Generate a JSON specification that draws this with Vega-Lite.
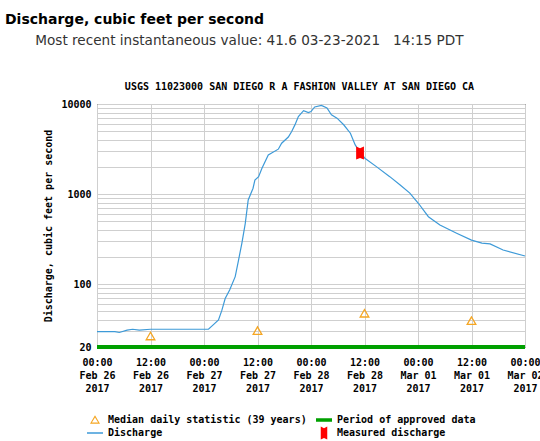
{
  "$schema": "https://vega.github.io/schema/vega-lite/v6.json",
  "width": 428,
  "height": 243,
  "autosize": "none",
  "padding": {"left": 97, "top": 104, "right": 15, "bottom": 94},
  "title": {
    "text": "Discharge, cubic feet per second",
    "subtitle": "\u200b\u00a0\u00a0\u00a0\u00a0\u00a0\u00a0\u00a0Most recent instantaneous value: 41.6 03-23-2021\u00a0\u00a0\u00a014:15 PDT",
    "anchor": "start",
    "frame": "group",
    "dx": -92,
    "font": "DejaVu Sans",
    "fontSize": 14,
    "fontWeight": "bold",
    "color": "#000",
    "subtitleFont": "DejaVu Sans",
    "subtitleFontSize": 13.6,
    "subtitleColor": "#333",
    "subtitlePadding": 7,
    "offset": 33
  },
  "datasets": {
    "discharge": [
      {"t": "2017-02-26T00:00", "q": 29.6},
      {"t": "2017-02-26T04:00", "q": 29.6},
      {"t": "2017-02-26T05:00", "q": 29.0},
      {"t": "2017-02-26T06:45", "q": 30.8},
      {"t": "2017-02-26T08:00", "q": 31.5},
      {"t": "2017-02-26T09:30", "q": 30.8},
      {"t": "2017-02-26T12:00", "q": 31.5},
      {"t": "2017-02-27T01:00", "q": 31.5},
      {"t": "2017-02-27T02:00", "q": 35},
      {"t": "2017-02-27T03:15", "q": 40},
      {"t": "2017-02-27T04:00", "q": 51},
      {"t": "2017-02-27T04:45", "q": 69},
      {"t": "2017-02-27T05:45", "q": 86},
      {"t": "2017-02-27T07:00", "q": 121},
      {"t": "2017-02-27T07:45", "q": 185},
      {"t": "2017-02-27T08:30", "q": 285},
      {"t": "2017-02-27T09:15", "q": 470},
      {"t": "2017-02-27T09:55", "q": 860},
      {"t": "2017-02-27T11:00", "q": 1160},
      {"t": "2017-02-27T11:25", "q": 1430},
      {"t": "2017-02-27T12:15", "q": 1560},
      {"t": "2017-02-27T13:00", "q": 1930},
      {"t": "2017-02-27T14:25", "q": 2720},
      {"t": "2017-02-27T16:40", "q": 3150},
      {"t": "2017-02-27T17:25", "q": 3670},
      {"t": "2017-02-27T18:55", "q": 4300},
      {"t": "2017-02-27T19:40", "q": 4940},
      {"t": "2017-02-27T20:25", "q": 5900},
      {"t": "2017-02-27T21:10", "q": 7250},
      {"t": "2017-02-27T22:20", "q": 8440},
      {"t": "2017-02-27T23:25", "q": 8030},
      {"t": "2017-02-28T00:00", "q": 8250},
      {"t": "2017-02-28T00:50", "q": 9270},
      {"t": "2017-02-28T02:20", "q": 9640},
      {"t": "2017-02-28T03:35", "q": 9060},
      {"t": "2017-02-28T04:35", "q": 7580},
      {"t": "2017-02-28T05:50", "q": 6960},
      {"t": "2017-02-28T07:20", "q": 5880},
      {"t": "2017-02-28T08:50", "q": 4740},
      {"t": "2017-02-28T09:55", "q": 3510},
      {"t": "2017-02-28T11:00", "q": 2900},
      {"t": "2017-02-28T12:05", "q": 2500},
      {"t": "2017-02-28T14:40", "q": 2015},
      {"t": "2017-02-28T17:40", "q": 1560},
      {"t": "2017-02-28T20:00", "q": 1262},
      {"t": "2017-02-28T22:10", "q": 1023},
      {"t": "2017-03-01T00:05", "q": 790},
      {"t": "2017-03-01T02:20", "q": 560},
      {"t": "2017-03-01T04:55", "q": 452},
      {"t": "2017-03-01T08:40", "q": 367},
      {"t": "2017-03-01T12:00", "q": 308},
      {"t": "2017-03-01T14:20", "q": 285},
      {"t": "2017-03-01T16:10", "q": 279},
      {"t": "2017-03-01T19:05", "q": 239},
      {"t": "2017-03-02T00:00", "q": 205}
    ],
    "median": [
      {"t": "2017-02-26T12:00", "q": 26.5},
      {"t": "2017-02-27T12:00", "q": 30.4},
      {"t": "2017-02-28T12:00", "q": 47.4},
      {"t": "2017-03-01T12:00", "q": 39.2}
    ],
    "approved": [
      {"t": "2017-02-26T00:00", "t2": "2017-03-02T00:00", "q": 20}
    ],
    "measured": [
      {"t": "2017-02-28T11:00", "q": 2850}
    ]
  },
  "layer": [
    {
      "data": {"name": "discharge"},
      "transform": [{"calculate": "'Discharge'", "as": "series"}],
      "mark": {"type": "line", "strokeWidth": 1.2},
      "encoding": {
        "x": {
          "field": "t", "type": "temporal",
          "scale": {"domain": [{"year": 2017, "month": 2, "date": 26}, {"year": 2017, "month": 3, "date": 2}], "nice": false},
          "axis": {
            "title": null,
            "values": [
              {"year": 2017, "month": 2, "date": 26, "hours": 0},
              {"year": 2017, "month": 2, "date": 26, "hours": 12},
              {"year": 2017, "month": 2, "date": 27, "hours": 0},
              {"year": 2017, "month": 2, "date": 27, "hours": 12},
              {"year": 2017, "month": 2, "date": 28, "hours": 0},
              {"year": 2017, "month": 2, "date": 28, "hours": 12},
              {"year": 2017, "month": 3, "date": 1, "hours": 0},
              {"year": 2017, "month": 3, "date": 1, "hours": 12},
              {"year": 2017, "month": 3, "date": 2, "hours": 0}
            ],
            "labelExpr": "[timeFormat(datum.value,'%H:%M'), timeFormat(datum.value,'%b %d'), timeFormat(datum.value,'%Y')]",
            "labelFont": "DejaVu Sans Mono", "labelFontWeight": "bold", "labelFontSize": 10,
            "labelColor": "#000", "labelLineHeight": 13, "labelPadding": 10,
            "labelFlush": false, "labelOverlap": false,
            "ticks": false, "domain": false,
            "grid": true, "gridColor": "#cfcfcf", "gridWidth": 1
          }
        },
        "y": {
          "field": "q", "type": "quantitative",
          "scale": {"type": "log", "domain": [20, 10000], "nice": false},
          "axis": {
            "title": "Discharge, cubic feet per second",
            "titleFont": "DejaVu Sans Mono", "titleFontWeight": "bold", "titleFontSize": 10,
            "titleColor": "#000", "titlePadding": 7,
            "values": [20, 30, 40, 50, 60, 70, 80, 90, 100, 200, 300, 400, 500, 600, 700, 800, 900, 1000, 2000, 3000, 4000, 5000, 6000, 7000, 8000, 9000, 10000],
            "format": "d",
            "labelExpr": "(datum.value == 20 || datum.value == 100 || datum.value == 1000 || datum.value == 10000) ? datum.label : ''",
            "labelFont": "DejaVu Sans Mono", "labelFontWeight": "bold", "labelFontSize": 10,
            "labelColor": "#000", "labelPadding": 6,
            "ticks": false, "domain": false,
            "grid": true, "gridColor": "#cfcfcf", "gridWidth": 1
          }
        },
        "color": {
          "field": "series", "type": "nominal",
          "scale": {
            "domain": ["Median daily statistic (39 years)", "Discharge", "Period of approved data", "Measured discharge"],
            "range": ["#f5a623", "#3d9ad8", "#00a000", "#ff0000"]
          },
          "legend": {
            "title": null,
            "orient": "none",
            "legendX": -7,
            "legendY": 311,
            "columns": 2,
            "columnPadding": 9,
            "rowPadding": 1,
            "symbolSize": 256,
            "labelOffset": 8,
            "labelFont": "DejaVu Sans Mono", "labelFontWeight": "bold", "labelFontSize": 10, "labelColor": "#000",
            "labelLimit": 400,
            "encode": {
              "symbols": {
                "update": {
                  "shape": {"signal": "datum.value === 'Discharge' ? 'stroke' : datum.value === 'Median daily statistic (39 years)' ? 'M0,-0.95L1,0.75L-1,0.75Z M0,-0.5L-0.62,0.52L0.62,0.52Z' : datum.value === 'Period of approved data' ? 'M-1,-0.22H1V0.22H-1Z' : 'M-0.5,-1L0,-0.75L0.5,-1V1L0,0.75L-0.5,1Z'"},
                  "fill": {"signal": "datum.value === 'Period of approved data' ? '#00a000' : datum.value === 'Measured discharge' ? '#ff0000' : datum.value === 'Median daily statistic (39 years)' ? '#f5a623' : 'transparent'"},
                  "stroke": {"signal": "datum.value === 'Discharge' ? '#3d9ad8' : 'transparent'"},
                  "strokeWidth": {"signal": "datum.value === 'Discharge' ? 1.5 : 0"},
                  "size": {"signal": "datum.value === 'Median daily statistic (39 years)' ? 100 : datum.value === 'Measured discharge' ? 169 : 256"},
                  "opacity": {"value": 1}
                }
              }
            }
          }
        }
      }
    },
    {
      "data": {"name": "median"},
      "transform": [{"calculate": "'Median daily statistic (39 years)'", "as": "series"}],
      "mark": {"type": "point", "shape": "triangle-up", "filled": false, "size": 75, "strokeWidth": 1.3, "opacity": 1},
      "encoding": {
        "x": {"field": "t", "type": "temporal", "axis": null},
        "y": {"field": "q", "type": "quantitative"},
        "color": {"field": "series", "type": "nominal", "legend": null}
      }
    },
    {
      "data": {"name": "approved"},
      "transform": [{"calculate": "'Period of approved data'", "as": "series"}],
      "mark": {"type": "rule", "strokeWidth": 4},
      "encoding": {
        "x": {
          "field": "t", "type": "temporal",
          "axis": {
            "orient": "top", "labels": false, "ticks": false, "domain": false, "grid": false,
            "title": "USGS 11023000 SAN DIEGO R A FASHION VALLEY AT SAN DIEGO CA\u00a0\u00a0\u00a0\u00a0\u200b",
            "titleFont": "DejaVu Sans Mono", "titleFontWeight": "bold", "titleFontSize": 10,
            "titleColor": "#000", "titlePadding": 13
          }
        },
        "x2": {"field": "t2"},
        "y": {"field": "q", "type": "quantitative"},
        "color": {"field": "series", "type": "nominal", "legend": null}
      }
    },
    {
      "data": {"name": "measured"},
      "transform": [{"calculate": "'Measured discharge'", "as": "series"}],
      "mark": {"type": "point", "shape": "M-0.6,-1L0,-0.75L0.6,-1V1L0,0.75L-0.6,1Z", "filled": true, "size": 169, "opacity": 1},
      "encoding": {
        "x": {"field": "t", "type": "temporal", "axis": null},
        "y": {"field": "q", "type": "quantitative"},
        "color": {"field": "series", "type": "nominal", "legend": null}
      }
    }
  ],
  "resolve": {"axis": {"x": "independent"}},
  "config": {
    "view": {"stroke": "#000", "strokeWidth": 1},
    "background": "#ffffff"
  }
}
